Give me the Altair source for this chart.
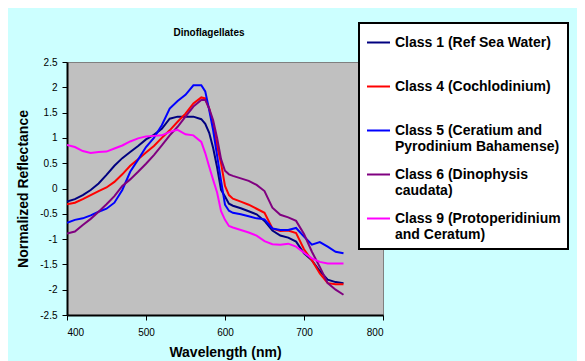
import altair as alt
import pandas as pd

wavelength = [400, 410, 420, 430, 440, 450, 460, 470, 480, 490, 500, 510, 520, 530, 540, 550, 560, 570, 575,
              580, 585, 590, 595, 600, 605, 610, 620, 630, 640, 650, 660, 670, 680, 690, 700, 710, 720, 730, 740, 750]

class1 = [-0.26, -0.21, -0.13, -0.03, 0.10, 0.27, 0.45, 0.60, 0.72, 0.84, 0.97, 1.06, 1.18, 1.38, 1.42, 1.42, 1.42, 1.37, 1.28,
          1.10, 0.80, 0.42, -0.03, -0.16, -0.30, -0.34, -0.39, -0.45, -0.51, -0.64, -0.83, -0.93, -0.97, -1.05, -1.28, -1.42, -1.63, -1.80, -1.85, -1.87]
class4 = [-0.31, -0.28, -0.21, -0.13, -0.05, 0.02, 0.13, 0.28, 0.45, 0.58, 0.71, 0.84, 1.00, 1.15, 1.32, 1.48, 1.68, 1.80, 1.78,
          1.58, 1.25, 0.84, 0.50, 0.05, -0.13, -0.20, -0.26, -0.32, -0.40, -0.48, -0.79, -0.84, -0.83, -0.88, -1.20, -1.42, -1.68, -1.87, -1.89, -1.89]
class5 = [-0.68, -0.62, -0.59, -0.53, -0.46, -0.40, -0.28, -0.03, 0.33, 0.57, 0.82, 1.00, 1.25, 1.58, 1.73, 1.85, 2.04, 2.04, 1.92,
          1.55, 1.15, 0.65, 0.15, -0.32, -0.44, -0.48, -0.51, -0.55, -0.59, -0.61, -0.79, -0.82, -0.82, -0.78, -0.95, -1.11, -1.06, -1.15, -1.25, -1.28]
class6 = [-0.89, -0.85, -0.72, -0.60, -0.46, -0.31, -0.15, 0.05, 0.18, 0.33, 0.49, 0.66, 0.85, 1.05, 1.22, 1.42, 1.62, 1.75, 1.75,
          1.58, 1.35, 1.00, 0.58, 0.35, 0.28, 0.25, 0.20, 0.15, 0.07, -0.05, -0.38, -0.52, -0.57, -0.64, -0.90, -1.25, -1.55, -1.87, -2.00, -2.10]
class9 = [0.86, 0.82, 0.74, 0.70, 0.72, 0.73, 0.79, 0.85, 0.93, 0.99, 1.03, 1.04, 1.05, 1.12, 1.16, 1.07, 1.05, 0.92, 0.70,
          0.43, 0.17, -0.08, -0.45, -0.62, -0.74, -0.77, -0.82, -0.87, -0.93, -1.04, -1.10, -1.11, -1.09, -1.15, -1.27, -1.38, -1.45, -1.48, -1.48, -1.48]

classes = ["Class 1 (Ref Sea Water)", "Class 4 (Cochlodinium)", "Class 5 (Ceratium and Pyrodinium Bahamense)",
           "Class 6 (Dinophysis caudata)", "Class 9 (Protoperidinium and Ceratum)"]
legend_lines = [["Class 1 (Ref Sea Water)", " "], ["Class 4 (Cochlodinium)", " "],
                ["Class 5 (Ceratium and", "Pyrodinium Bahamense)"], ["Class 6 (Dinophysis", "caudata)"],
                ["Class 9 (Protoperidinium", "and Ceratum)"]]
colors = ["#000080", "#FF0000", "#0000FF", "#800080", "#FF00FF"]
y_ticks = [-2.5, -2, -1.5, -1, -0.5, 0, 0.5, 1, 1.5, 2, 2.5]
x_ticks = [400, 500, 600, 700, 800]

series = [class1, class4, class5, class6, class9]
rows = []
for name, vals in zip(classes, series):
    for w, v in zip(wavelength, vals):
        rows.append({"wavelength": w, "value": v, "cls": name})
df = pd.DataFrame(rows)

expr = "datum.label"
for name, lines in reversed(list(zip(classes, legend_lines))):
    arr = "[" + ",".join("'" + l + "'" for l in lines) + "]"
    expr = f"datum.label == '{name}' ? {arr} : ({expr})"

FONT = "Liberation Sans"

chart = alt.Chart(df).mark_line(strokeWidth=2, clip=True).encode(
    x=alt.X("wavelength:Q", scale=alt.Scale(domain=[400, 800], nice=False),
            axis=alt.Axis(values=x_ticks, title="Wavelength (nm)", titlePadding=8, labelPadding=7)),
    y=alt.Y("value:Q", scale=alt.Scale(domain=[-2.5, 2.5], nice=False),
            axis=alt.Axis(values=y_ticks, title="Normalized Reflectance", labelExpr="toString(datum.value)",
                          titlePadding=9, labelPadding=5)),
    color=alt.Color("cls:N", scale=alt.Scale(domain=classes, range=colors),
                    legend=alt.Legend(title=None, orient="none", legendX=292, legendY=-39, labelExpr=expr)),
    order=alt.Order("wavelength:Q"),
).properties(
    width=316, height=253,
    autosize=alt.AutoSizeParams(type="none"),
    padding={"left": 59, "top": 54, "right": 194, "bottom": 46},
    background="#CCFFFF",
    title=alt.TitleParams("Dinoflagellates", font=FONT, fontSize=10, fontWeight="bold", color="black",
                          anchor="middle", frame="group", dx=-16, dy=16, offset=0),
).configure_view(
    fill="#C0C0C0", stroke="#808080", strokeWidth=1
).configure_axis(
    domainColor="black", domainWidth=2, tickColor="black", tickSize=5, tickWidth=1,
    labelFont=FONT, labelFontSize=10, labelColor="black", grid=False,
    titleFont=FONT, titleFontSize=14, titleFontWeight="bold", titleColor="black",
).configure_legend(
    labelFont=FONT, labelFontSize=14, labelFontWeight="bold", labelColor="black", labelLimit=400,
    symbolType="stroke", symbolSize=529, symbolStrokeWidth=2, labelOffset=4, rowPadding=8,
    padding=7, fillColor="white", strokeColor="black", strokeWidth=2,
)

chart.save("out.html", embed_options={"renderer": "svg", "actions": False})
